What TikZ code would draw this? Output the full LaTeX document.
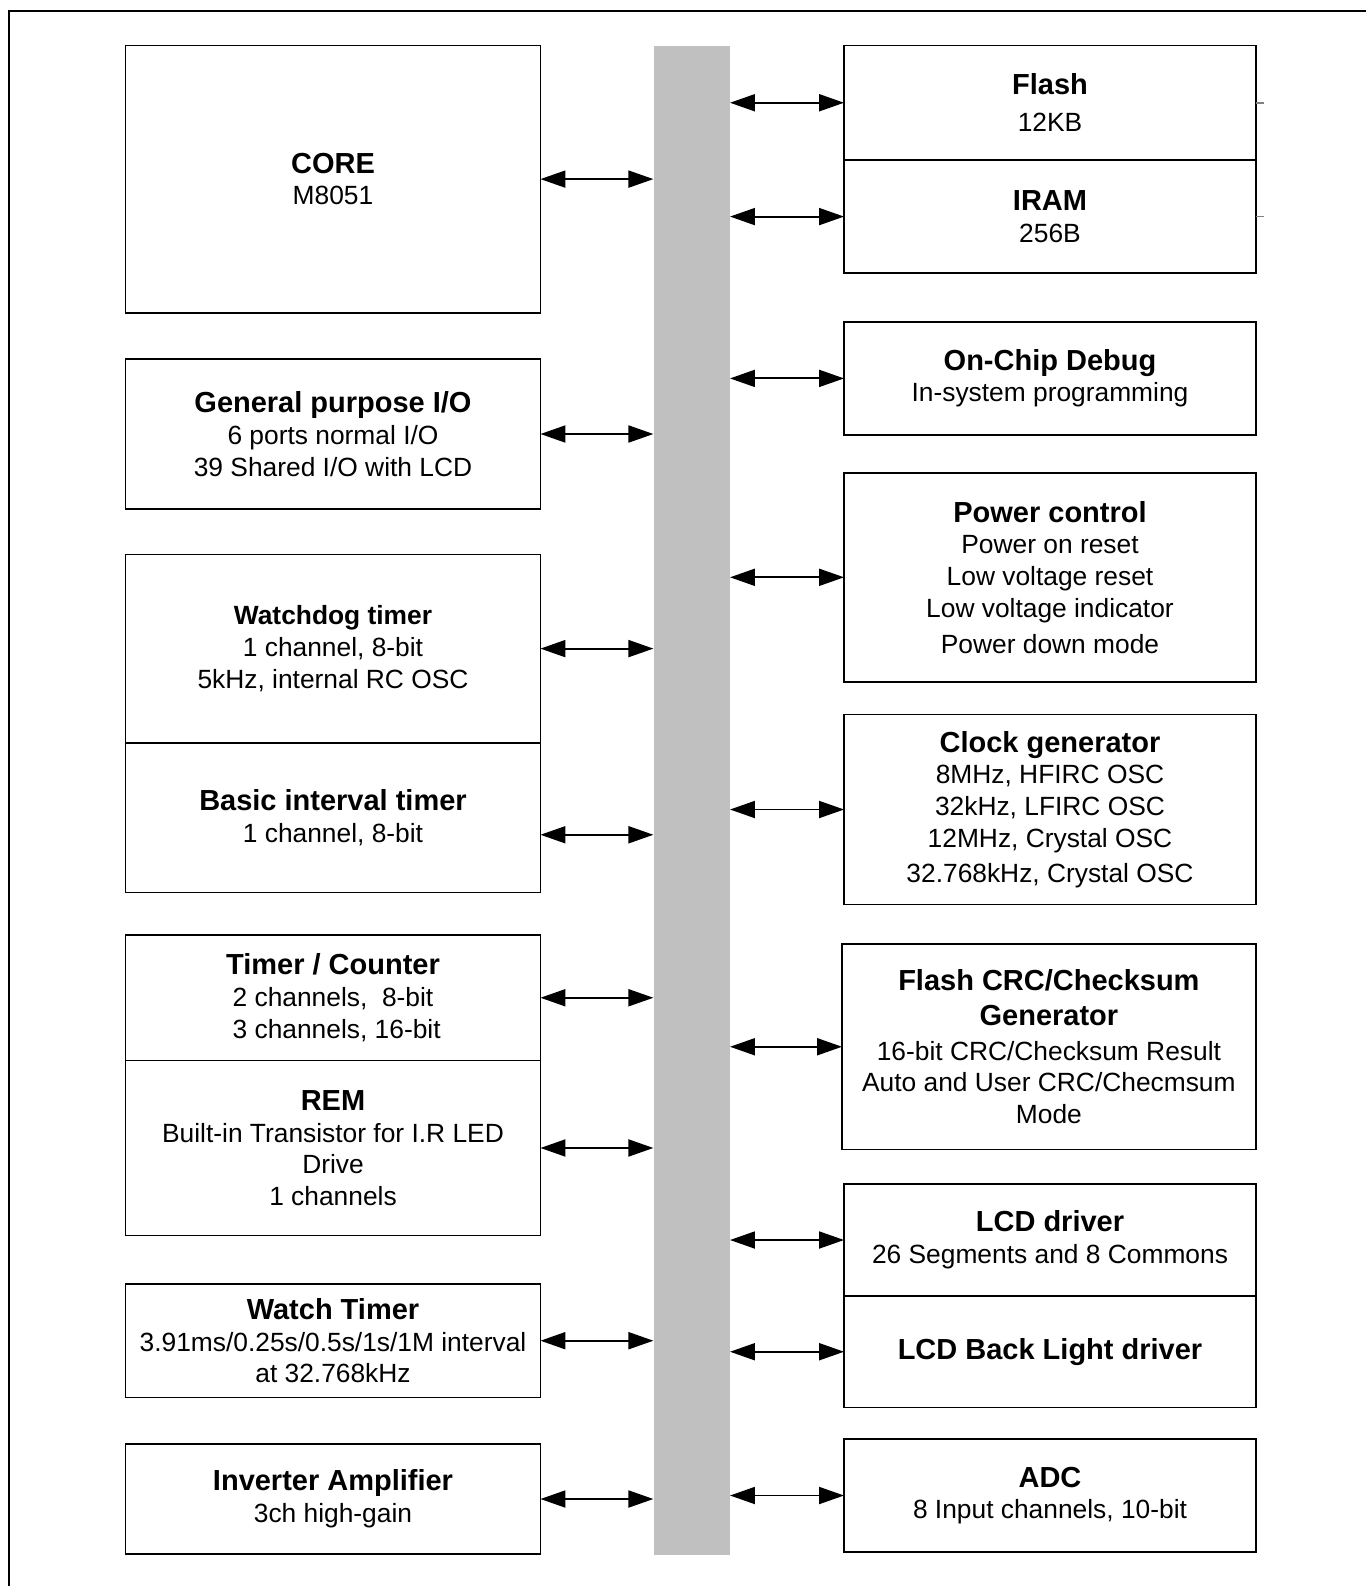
\documentclass[tikz,border=0pt]{standalone}
\usepackage{fontspec}
\setmainfont{Liberation Sans}
\usetikzlibrary{arrows.meta, positioning}
\definecolor{busgray}{RGB}{192,192,192}
\newcommand{\boxtitle}[1]{{\fontsize{16.5}{18}\selectfont\bfseries #1}}

\begin{document}
\begin{tikzpicture}[x=0.02cm, y=-0.02cm, color=black,
  blk/.style={draw, rectangle, line width=1pt, align=center, inner sep=0pt, outer sep=0pt, font=\fontsize{15}{18}\selectfont},
  lblk/.style={blk, minimum width=8.3cm},
  rblk/.style={blk, minimum width=8.24cm},
  link/.style={line width=1.1pt, {Triangle[length=0.5cm,width=0.34cm]}-{Triangle[length=0.5cm,width=0.34cm]}}]
\useasboundingbox (0,0) rectangle (1366,1586);
\draw[line width=1.7pt] (9,1586) -- (9,11) -- (1366,11);

\node[fill=busgray, minimum width=1.518cm, minimum height=30.19cm, inner sep=0pt] (bus) at (691.7,800.25) {};

% left column
\node[lblk, minimum height=5.344cm] (core) at (333,179.1) {\boxtitle{CORE}\\M8051};
\node[lblk, minimum height=3cm] (gpio) at (333,434) {\boxtitle{General purpose I/O}\\6 ports normal I/O\\39 Shared I/O with LCD};
\node[lblk, minimum height=3.764cm] (wdt) at (333,648.6) {{\bfseries Watchdog timer}\\1 channel, 8-bit\\5kHz, internal RC OSC};
\node[lblk, minimum height=2.996cm, below=0pt of wdt] (bit) {\boxtitle{Basic interval timer}\\1 channel, 8-bit};
\node[lblk, minimum height=2.51cm] (tc) at (333,997.75) {\boxtitle{Timer / Counter}\\2 channels,~ 8-bit\\~3 channels, 16-bit};
\node[lblk, minimum height=3.5cm, below=0pt of tc] (rem) {\boxtitle{REM}\\Built-in Transistor for I.R LED\\Drive\\1 channels};
\node[lblk, minimum height=2.268cm] (wt) at (333,1340.7) {\boxtitle{Watch Timer}\\3.91ms/0.25s/0.5s/1s/1M interval\\at 32.768kHz};
\node[lblk, minimum height=2.2cm] (inv) at (333,1499) {\boxtitle{Inverter Amplifier}\\3ch high-gain};

% right column
\node[rblk, minimum height=2.29cm] (flash) at (1050,102.75) {\boxtitle{Flash}\\[3pt]12KB};
\node[rblk, minimum height=2.264cm, below=0pt of flash] (iram) {\boxtitle{IRAM}\\256B};
\node[rblk, minimum height=2.264cm] (ocd) at (1050,378.4) {\boxtitle{On-Chip Debug}\\In-system programming};
\node[rblk, minimum height=4.188cm] (pwr) at (1050,577.3) {\boxtitle{Power control}\\Power on reset\\Low voltage reset\\Low voltage indicator\\[2.5pt]Power down mode};
\node[rblk, minimum height=3.804cm] (clk) at (1050,809.5) {\boxtitle{Clock generator}\\8MHz, HFIRC OSC\\32kHz, LFIRC OSC\\12MHz, Crystal OSC\\[2pt]32.768kHz, Crystal OSC};
\node[blk, minimum width=8.276cm, minimum height=4.11cm] (crc) at (1048.9,1046.75) {\boxtitle{Flash CRC/Checksum}\\[2pt]\boxtitle{Generator}\\[1.5pt]16-bit CRC/Checksum Result\\Auto and User CRC/Checmsum\\Mode};
\node[rblk, minimum height=2.24cm] (lcd) at (1050,1240) {\boxtitle{LCD driver}\\26 Segments and 8 Commons};
\node[rblk, minimum height=2.23cm, below=0pt of lcd] (lcdbl) {\boxtitle{LCD Back Light driver}};
\node[rblk, minimum height=2.26cm] (adc) at (1050,1495.5) {\boxtitle{ADC}\\8 Input channels, 10-bit};

\draw[line width=1pt, gray] (flash.east) -- ++(8,0);
\draw[line width=1pt, gray] (iram.east) -- ++(8,0);

% arrows to the bus
\coordinate (bitc) at ([yshift=-0.344cm]bit.east);
\draw[link] (core) -- (core -| bus.west);
\draw[link] (gpio) -- (gpio -| bus.west);
\draw[link] (wdt) -- (wdt -| bus.west);
\draw[link] (bitc) -- (bitc -| bus.west);
\draw[link] (tc) -- (tc -| bus.west);
\draw[link] (rem) -- (rem -| bus.west);
\draw[link] (wt) -- (wt -| bus.west);
\draw[link] (inv) -- (inv -| bus.west);

\draw[link] (flash -| bus.east) -- (flash);
\draw[link] (iram -| bus.east) -- (iram);
\draw[link] (ocd -| bus.east) -- (ocd);
\draw[link] (pwr -| bus.east) -- (pwr);
\draw[link] (clk -| bus.east) -- (clk);
\draw[link] (crc -| bus.east) -- (crc);
\draw[link] (lcd -| bus.east) -- (lcd);
\draw[link] (lcdbl -| bus.east) -- (lcdbl);
\draw[link] (adc -| bus.east) -- (adc);

\end{tikzpicture}
\end{document}
